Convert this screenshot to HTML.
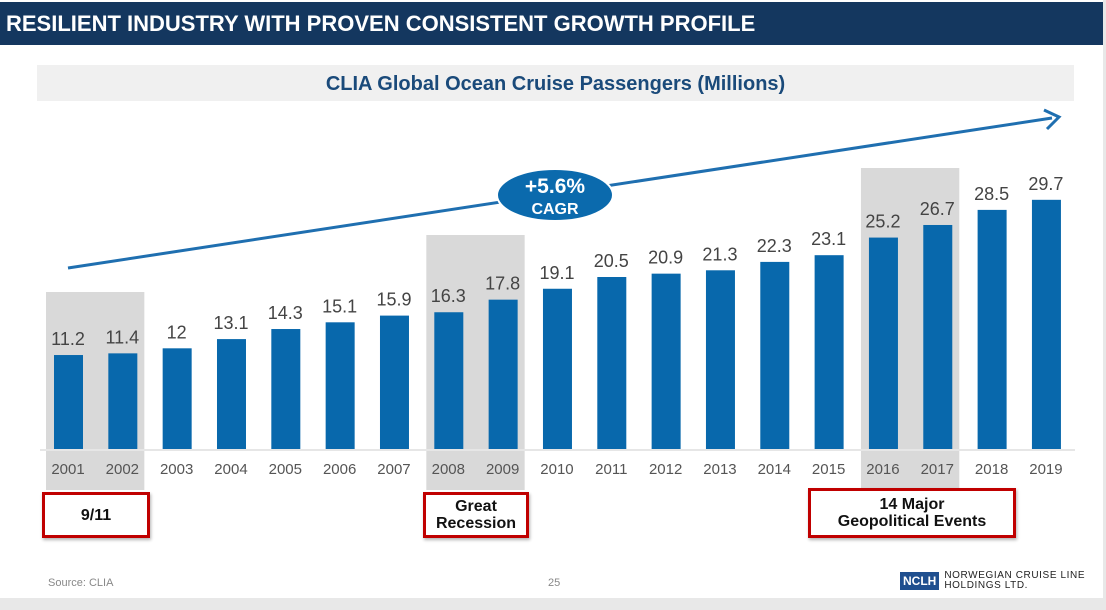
<!DOCTYPE html>
<html><head><meta charset="utf-8"><style>
body{margin:0;width:1106px;height:610px;background:#e8e8e8;font-family:"Liberation Sans",sans-serif;overflow:hidden;position:relative}
.slide{position:absolute;left:0;top:0;width:1103px;height:598px;background:#fff}
.hdr{position:absolute;left:0;top:2px;width:1103px;height:43px;background:#14375f;color:#fff;font-weight:bold;font-size:22px;line-height:43px;padding-left:6px;box-sizing:border-box;letter-spacing:0px}
.tbox{position:absolute;left:37px;top:65px;width:1037px;height:36px;background:#f0f0f0;color:#1a4a7a;font-weight:bold;font-size:20px;text-align:center;line-height:38px}
.ev{position:absolute;border:3px solid #c00000;background:#fff;box-sizing:border-box;text-align:center;font-weight:bold;font-size:16px;color:#111;display:flex;align-items:center;justify-content:center;line-height:17px;box-shadow:1px 2px 3px rgba(0,0,0,.3)}
</style></head><body>
<div class="slide"></div>
<div class="hdr">RESILIENT INDUSTRY WITH PROVEN CONSISTENT GROWTH PROFILE</div>
<div class="tbox">CLIA Global Ocean Cruise Passengers (Millions)</div>
<svg id="chart" width="1106" height="610" style="position:absolute;left:0;top:0"></svg>
<div class="ev" style="left:42px;top:492px;width:108px;height:46px">9/11</div>
<div class="ev" style="left:423px;top:492px;width:106px;height:46px">Great<br>Recession</div>
<div class="ev" style="left:808px;top:488px;width:208px;height:50px">14 Major<br>Geopolitical Events</div>
<div style="position:absolute;left:48px;top:577px;font-size:11px;color:#888">Source: CLIA</div>
<div style="position:absolute;left:548px;top:577px;font-size:11px;color:#888">25</div>
<div style="position:absolute;left:900px;top:571px;display:flex;align-items:center">
<div style="background:#1f4f8f;color:#fff;font-weight:bold;font-size:12px;padding:2px 3px;margin-right:5px">NCLH</div>
<div style="font-size:10px;line-height:10px;color:#222;letter-spacing:0.6px">NORWEGIAN CRUISE LINE<br>HOLDINGS LTD.</div></div>
<script>
const years=["2001","2002","2003","2004","2005","2006","2007","2008","2009","2010","2011","2012","2013","2014","2015","2016","2017","2018","2019"];
const values=[11.2,11.4,12,13.1,14.3,15.1,15.9,16.3,17.8,19.1,20.5,20.9,21.3,22.3,23.1,25.2,26.7,28.5,29.7];
const valueLabels=["11.2","11.4","12","13.1","14.3","15.1","15.9","16.3","17.8","19.1","20.5","20.9","21.3","22.3","23.1","25.2","26.7","28.5","29.7"];
const shadeRanges=[[0,1,292],[7,8,235],[15,16,168]];
const svg=document.getElementById('chart');const NS='http://www.w3.org/2000/svg';
const x=i=>68+i*54.33, y=v=>449-v*8.39;
function mk(t,a){const e=document.createElementNS(NS,t);for(const k in a)e.setAttribute(k,a[k]);svg.appendChild(e);return e;}
shadeRanges.forEach((r,k)=>{const e=mk('rect',{x:x(r[0])-22,y:r[2],width:x(r[1])-x(r[0])+44,height:490-r[2],fill:'#d9d9d9'});

});
const bl=mk('line',{x1:40,x2:1075,y1:450,y2:450,stroke:'#e6e6e6','stroke-width':2});


values.forEach((v,i)=>{
const b=mk('rect',{x:x(i)-14,y:y(v),width:29,height:449-y(v),fill:'#0868ac'});


const t=mk('text',{x:x(i),y:y(v)-10,'text-anchor':'middle','font-size':18,fill:'#444'});t.textContent=valueLabels[i];


const l=mk('text',{x:x(i),y:474,'text-anchor':'middle','font-size':15,fill:'#555'});l.textContent=years[i];

});
const ar=mk('line',{x1:68,y1:268,x2:1052,y2:118,stroke:'#1f6fb0','stroke-width':3});


const ah=mk('path',{d:'M1044,110 L1059,117 L1047,129',fill:'none',stroke:'#1f6fb0','stroke-width':3});


const el=mk('ellipse',{cx:555,cy:195,rx:58,ry:26,fill:'#0b6aad',stroke:'#fff','stroke-width':2});


const c1=mk('text',{x:555,y:193,'text-anchor':'middle','font-size':21,'font-weight':'bold',fill:'#fff'});c1.textContent='+5.6%';


const c2=mk('text',{x:555,y:214,'text-anchor':'middle','font-size':16,'font-weight':'bold',fill:'#fff'});c2.textContent='CAGR';


</script>
</body></html>
